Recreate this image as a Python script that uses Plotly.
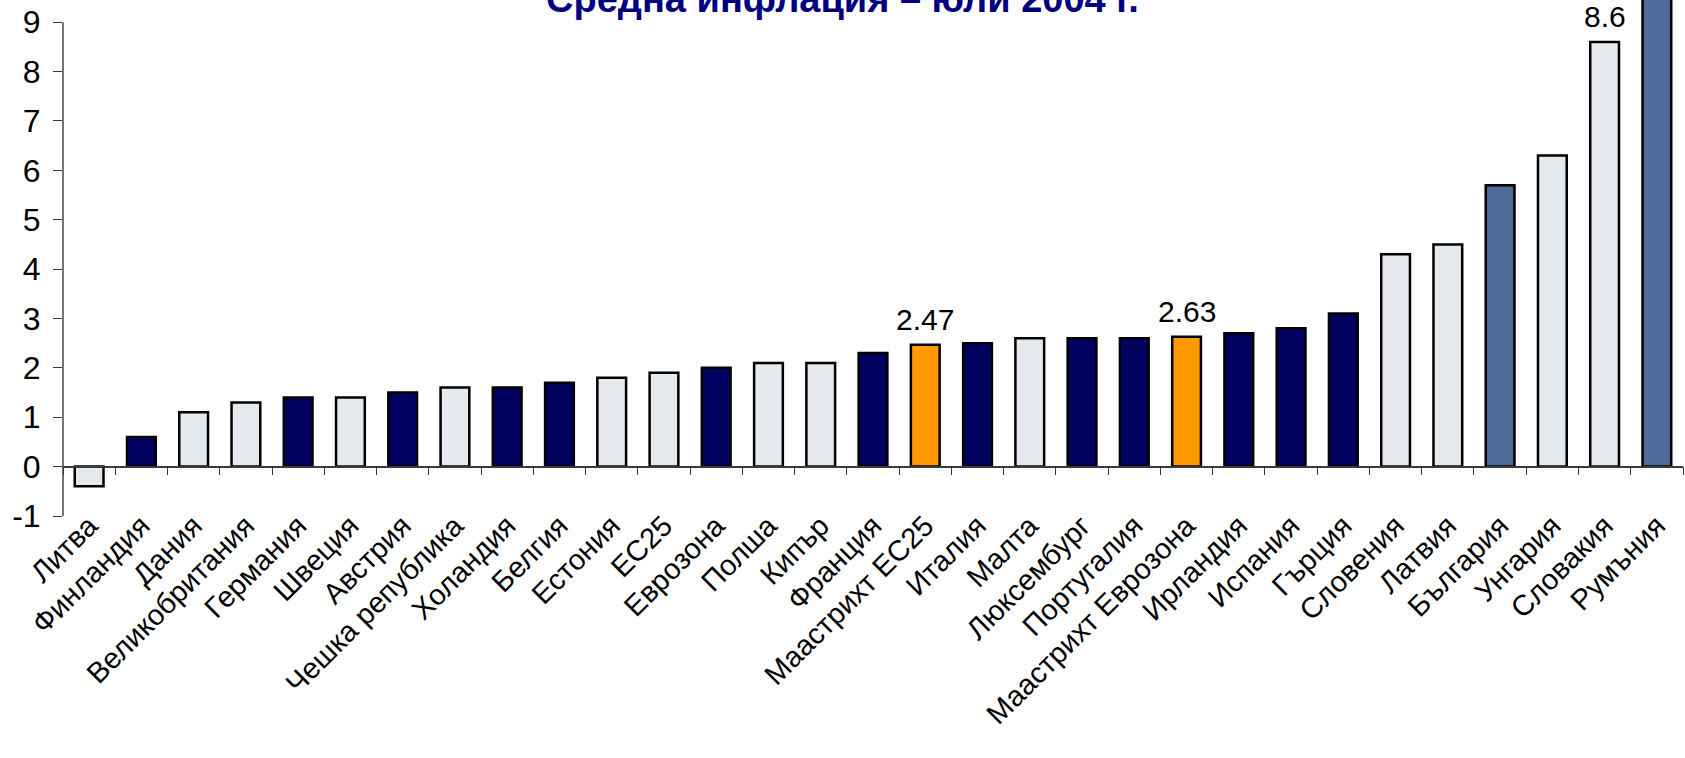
import plotly.graph_objects as go

# Average inflation, July 2004 (%)
categories = [
    "Литва", "Финландия", "Дания", "Великобритания", "Германия", "Швеция",
    "Австрия", "Чешка република", "Холандия", "Белгия", "Естония", "ЕС25",
    "Еврозона", "Полша", "Кипър", "Франция", "Маастрихт ЕС25", "Италия",
    "Малта", "Люксембург", "Португалия", "Маастрихт Еврозона", "Ирландия",
    "Испания", "Гърция", "Словения", "Латвия", "България", "Унгария",
    "Словакия", "Румъния",
]
values = [
    -0.4, 0.6, 1.1, 1.3, 1.4, 1.4,
    1.5, 1.6, 1.6, 1.7, 1.8, 1.9,
    2.0, 2.1, 2.1, 2.3, 2.47, 2.5,
    2.6, 2.6, 2.6, 2.63, 2.7,
    2.8, 3.1, 4.3, 4.5, 5.7, 6.3,
    8.6, 11.9,
]
groups = [
    "other", "euro", "other", "other", "euro", "other",
    "euro", "other", "euro", "euro", "other", "other",
    "euro", "other", "other", "euro", "ref", "euro",
    "other", "euro", "euro", "ref", "euro",
    "euro", "euro", "other", "other", "cand", "other",
    "other", "cand",
]
labelled = ["Маастрихт ЕС25", "Маастрихт Еврозона", "Словакия"]
y_tick_values = [-1, 0, 1, 2, 3, 4, 5, 6, 7, 8, 9]
y_tick_labels = ["-1", "0", "1", "2", "3", "4", "5", "6", "7", "8", "9"]
title_text = "Средна инфлация – юли 2004 г."

palette = {
    "other": "#E5E8EC",
    "euro": "#00005E",
    "ref": "#FF9900",
    "cand": "#4D6A99",
}
FONT = "Liberation Sans, Arial, sans-serif"
AXIS_CLR = "#3a3a3a"

y_min, y_top = -1, 9.45
n = len(categories)

fig = go.Figure()
fig.add_trace(go.Bar(
    x=categories,
    y=values,
    marker=dict(color=[palette[g] for g in groups],
                line=dict(color="black", width=2.5)),
    hoverinfo="x+y",
    showlegend=False,
))
# helper trace so the zero-level category axis is rendered
fig.add_trace(go.Scatter(
    x=categories, y=values, xaxis="x2", mode="markers",
    marker=dict(opacity=0), hoverinfo="skip", showlegend=False,
))

for cat, val in zip(categories, values):
    if cat in labelled:
        fig.add_annotation(
            x=cat, y=val, xref="x", yref="y", text=f"{val:g}",
            showarrow=False, yanchor="bottom", yshift=8, borderpad=0,
            font=dict(family=FONT, size=30, color="black"),
        )

# title, partly running off the top edge
fig.add_annotation(
    x=0.481, y=1, xref="paper", yref="paper", text=f"<b>{title_text}</b>",
    showarrow=False, xanchor="center", yanchor="bottom", yshift=-22,
    font=dict(family=FONT, size=38, color="#000080"),
)

# vertical axis line from -1 to 9
fig.add_shape(type="line", xref="paper", yref="y", x0=0, x1=0, y0=-1, y1=9,
              line=dict(color=AXIS_CLR, width=1.4))

fig.update_layout(
    width=1685, height=758,
    margin=dict(l=63, r=2, t=0, b=242),
    paper_bgcolor="white", plot_bgcolor="white",
    bargap=0.45,
    font=dict(family=FONT, size=29, color="black"),
    xaxis=dict(
        type="category", range=[-0.5, n - 0.5],
        showline=False, ticks="", showgrid=False, zeroline=False,
        tickangle=-45, ticklabelstandoff=-14,
        tickfont=dict(family=FONT, size=29, color="black"),
    ),
    xaxis2=dict(
        type="category", overlaying="x", anchor="free",
        position=(0 - y_min) / (y_top - y_min), side="bottom",
        range=[-0.5, n - 0.5], showline=True, linecolor=AXIS_CLR, linewidth=1.6,
        ticks="outside", tickson="boundaries", ticklen=8, tickwidth=1.3,
        tickcolor=AXIS_CLR, showticklabels=False, showgrid=False, zeroline=False,
    ),
    yaxis=dict(
        range=[y_min, y_top], tickvals=y_tick_values, ticktext=y_tick_labels,
        ticks="outside", ticklen=9, tickwidth=1.3, tickcolor=AXIS_CLR,
        ticklabelstandoff=6,
        showline=False, showgrid=False, zeroline=False,
        tickfont=dict(family=FONT, size=32, color="black"),
    ),
)

fig.write_html("out.html")
